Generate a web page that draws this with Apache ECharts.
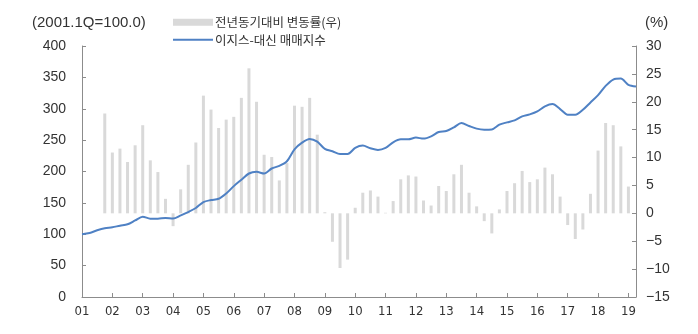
<!DOCTYPE html>
<html>
<head>
<meta charset="utf-8">
<script src="https://cdn.jsdelivr.net/npm/echarts@6/dist/echarts.min.js"></script>
<style>
html,body{margin:0;padding:0;background:#fff;}
#chart{width:698px;height:334px;}
</style>
</head>
<body>
<div id="chart"></div>
<script>
// Year labels shown on the x axis (quarterly data, 2001.1Q - 2019.2Q)
const years = ['01','02','03','04','05','06','07','08','09','10','11','12','13','14','15','16','17','18','19'];
const quarterCount = 74;

// 이지스-대신 매매지수 (2001.1Q = 100.0), left axis
const indexValues = [
  100, 102, 106.3, 109.5, 111, 113.7, 115.9, 122, 128, 124.9,
  124.9, 126, 125, 130, 135.4, 141.8, 151.3, 154.5, 156.6, 165,
  176.7, 186.8, 196.8, 199.5, 196.8, 204.8, 209, 216.4, 235.4, 246,
  251.9, 247.6, 236, 232.3, 228, 228, 237.6, 241.3, 237, 234.4,
  237.6, 246.6, 251.3, 251.3, 254, 252.4, 256, 263, 264.6, 270.4,
  277.2, 272.5, 268.3, 266.7, 267, 274.6, 278.3, 281.5, 287.8, 291,
  295.7, 303.7, 307.4, 299.5, 290.5, 290.5, 298.4, 310, 321.7, 336.5,
  346.5, 348.1, 338, 335.4
];

// 전년동기대비 변동률 (%), right axis
const yoyValues = [
  null, null, null, 17.9, 10.9, 11.6, 9.2, 12.2, 15.8, 9.5,
  7.4, 2.6, -2.3, 4.3, 8.7, 12.7, 21.1, 18.6, 15.3, 16.8,
  17.3, 20.7, 26.0, 20.0, 10.5, 10.1, 5.9, 9.0, 19.3, 19.1,
  20.7, 14.1, 0.2, -5.1, -9.8, -8.3, 1.0, 3.7, 4.1, 3.0,
  0.1, 2.2, 6.1, 6.8, 6.6, 2.3, 1.4, 4.9, 4.0, 7.0,
  8.7, 3.7, 1.25, -1.4, -3.6, 0.7, 4.0, 5.4, 7.6, 5.6,
  6.1, 8.2, 7.0, 3.0, -2.1, -4.6, -2.9, 3.5, 11.25, 16.2,
  15.8, 12.0, 4.8, null
];

const leftTicks = {min: 0, max: 400, interval: 50};
const rightTicks = {min: -15, max: 30, interval: 5};

const seriesNames = ['전년동기대비 변동률(우)', '이지스-대신 매매지수'];
const leftUnit = '(2001.1Q=100.0)';
const rightUnit = '(%)';

const categories = [];
for (let i = 0; i < quarterCount; i++) {
  categories.push(years[Math.floor(i / 4)] + '.' + (i % 4 + 1) + 'Q');
}

const axisColor = '#8c8c8c';
const textColor = '#333';
const lineColor = '#4f81c4';
const numFont = '"Liberation Sans", Arial, sans-serif';
const krFont = '"Noto Sans CJK KR", "Liberation Sans", sans-serif';

const chart = echarts.init(document.getElementById('chart'), null, {renderer: 'canvas'});
chart.setOption({
  animation: false,
  backgroundColor: '#fff',
  grid: {left: 82, right: 62, top: 46, bottom: 37, containLabel: false},
  legend: {
    orient: 'vertical',
    left: 168,
    top: 11,
    itemWidth: 40,
    itemHeight: 7,
    itemGap: 5,
    symbolKeepAspect: true,
    textStyle: {fontFamily: krFont, fontSize: 12.5, color: textColor, padding: [0, 0, 0, -3]},
    data: [
      {name: seriesNames[0], icon: 'rect'},
      {name: seriesNames[1], icon: 'path://M0,0H40V2H0Z'}
    ]
  },
  graphic: [
    {type: 'text', left: 32, top: 15, style: {text: leftUnit, font: '15px ' + numFont, fill: textColor}},
    {type: 'text', left: 645, top: 15, style: {text: rightUnit, font: '15px ' + numFont, fill: textColor}}
  ],
  xAxis: {
    type: 'category',
    data: categories,
    boundaryGap: false,
    axisLine: {show: true, lineStyle: {color: axisColor, width: 1}},
    axisTick: {show: true, inside: true, length: 4, interval: 3, lineStyle: {color: axisColor}},
    axisLabel: {
      interval: 3,
      margin: 8,
      color: textColor,
      fontSize: 13,
      fontFamily: '"Liberation Sans Narrow", "DejaVu Sans Condensed", ' + numFont,
      formatter: v => v.split('.')[0]
    },
    splitLine: {show: false}
  },
  yAxis: [
    {
      type: 'value',
      min: leftTicks.min, max: leftTicks.max, interval: leftTicks.interval,
      axisLine: {show: true, lineStyle: {color: axisColor}},
      axisTick: {show: true, inside: true, length: 4, lineStyle: {color: axisColor}},
      axisLabel: {color: textColor, fontSize: 14, fontFamily: numFont, margin: 16},
      splitLine: {show: false}
    },
    {
      type: 'value',
      position: 'right',
      min: rightTicks.min, max: rightTicks.max, interval: rightTicks.interval,
      axisLine: {show: true, lineStyle: {color: axisColor}},
      axisTick: {show: true, inside: true, length: 4, lineStyle: {color: axisColor}},
      axisLabel: {
        color: textColor, fontSize: 14, fontFamily: numFont, margin: 10,
        formatter: v => (v < 0 ? '\u2212' + Math.abs(v) : String(v))
      },
      splitLine: {show: false}
    }
  ],
  series: [
    {
      name: seriesNames[0],
      type: 'bar',
      yAxisIndex: 1,
      data: yoyValues,
      barWidth: 3,
      itemStyle: {color: '#d9d9d9'},
      z: 1
    },
    {
      name: seriesNames[1],
      type: 'line',
      yAxisIndex: 0,
      data: indexValues,
      symbol: 'none',
      smooth: 0.3,
      lineStyle: {color: lineColor, width: 2},
      itemStyle: {color: lineColor},
      z: 3
    }
  ]
});
</script>
</body>
</html>
